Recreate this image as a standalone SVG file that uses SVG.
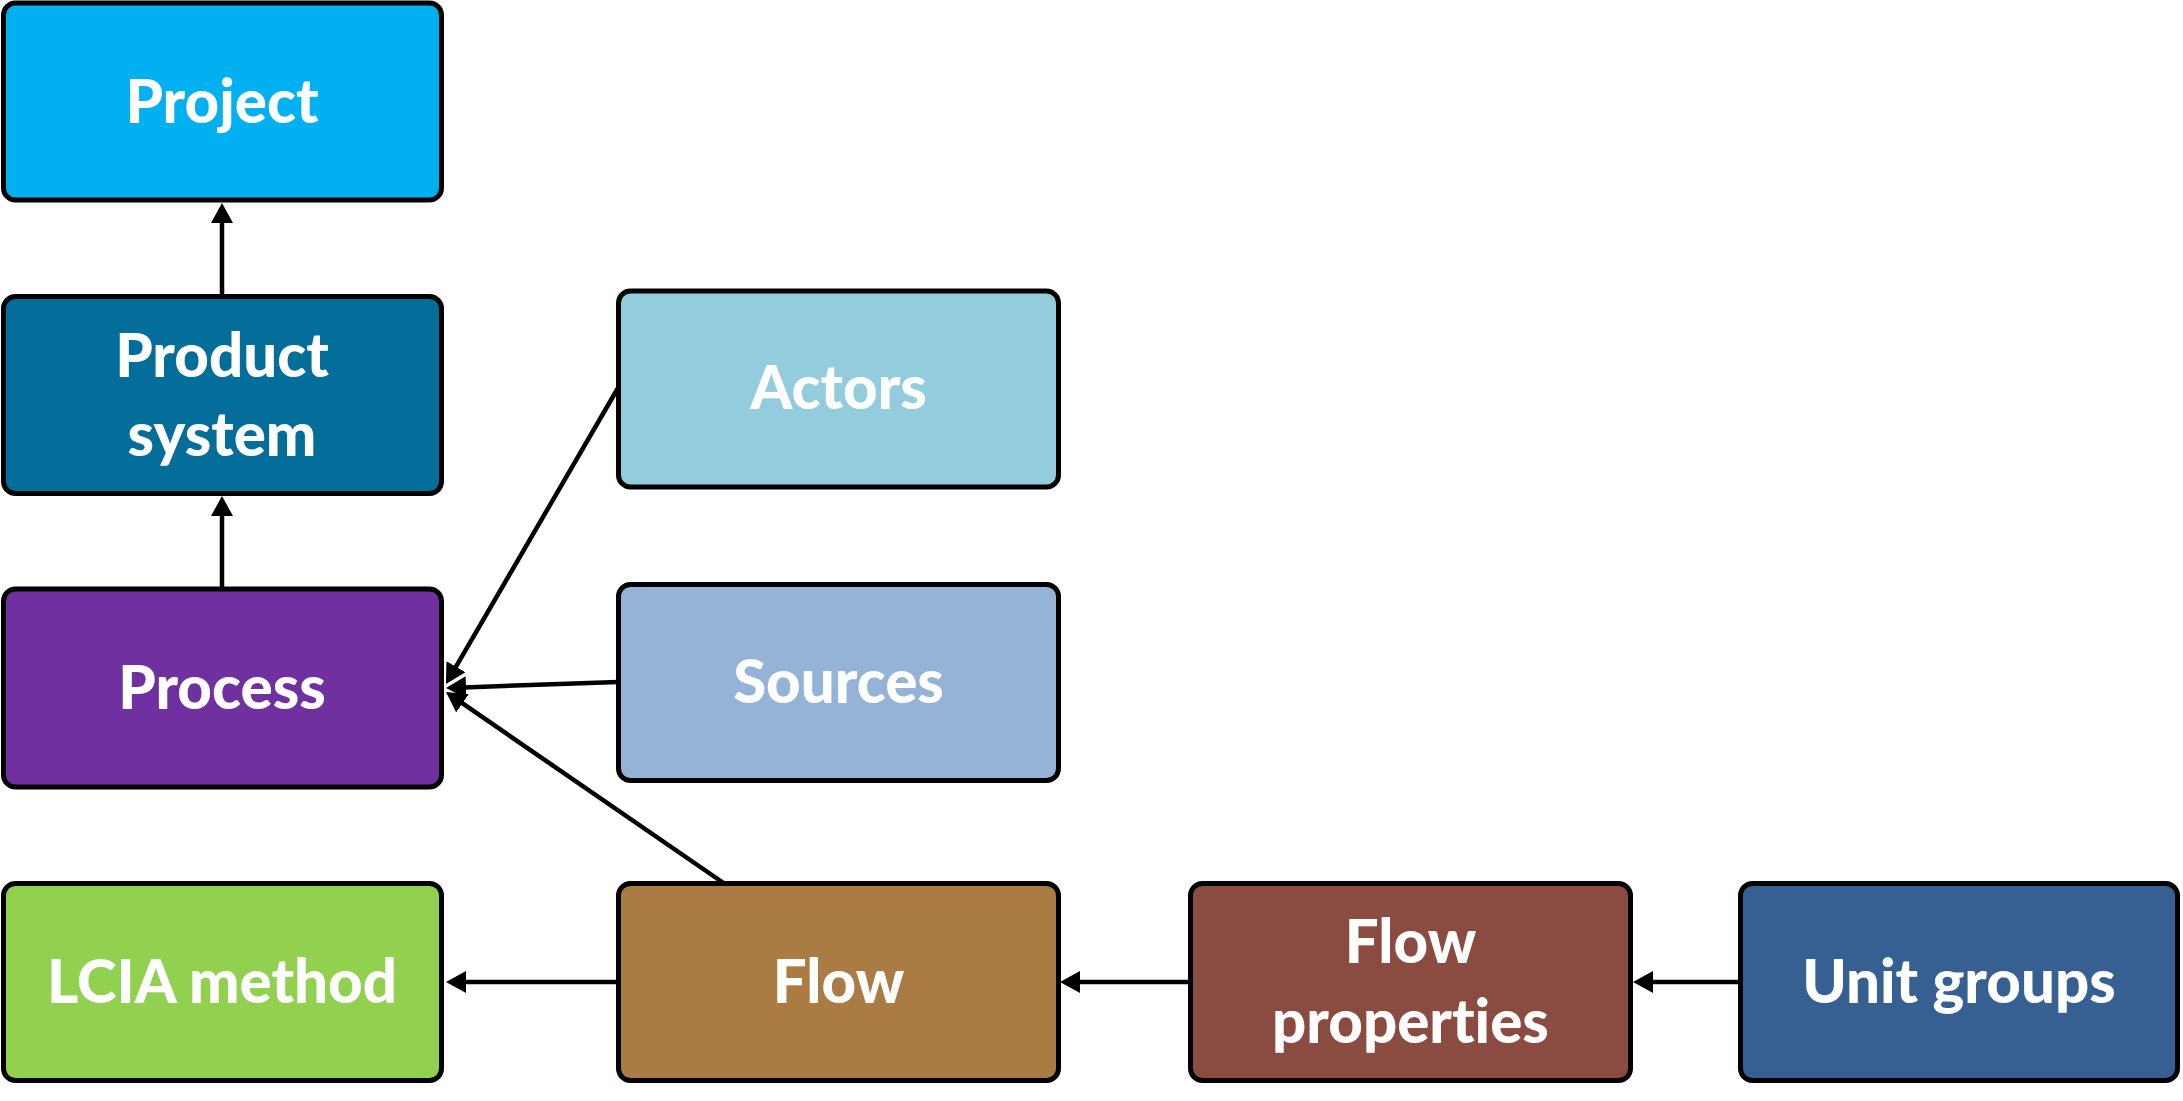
<svg xmlns="http://www.w3.org/2000/svg" width="2183" height="1101" viewBox="0 0 2183 1101">
  <style>
    .box { stroke: #000; stroke-width: 5; }
    .lbl { font-family: Lato, "Open Sans", "Liberation Sans", sans-serif; font-weight: 900; font-size: 60px; fill: #fff; text-anchor: middle; font-variant-ligatures: none; font-feature-settings: "liga" 0, "dlig" 0; }
    .conn { stroke: #000; stroke-width: 4.5; fill: none; marker-end: url(#arrow); }
  </style>
  <defs>
    <marker id="arrow" viewBox="0 0 20 22" markerWidth="20" markerHeight="22" markerUnits="userSpaceOnUse" refX="2" refY="11" orient="auto">
      <path d="M0,0 L20,11 L0,22 z" fill="#000"/>
    </marker>
  </defs>
  <rect width="2183" height="1101" fill="#fff"/>

  <g id="connectors">
    <line class="conn" x1="222" y1="296" x2="222" y2="221"/>
    <line class="conn" x1="222" y1="589" x2="222" y2="514"/>
    <line class="conn" x1="618" y1="388" x2="455" y2="668.4"/>
    <line class="conn" x1="618" y1="682" x2="464" y2="687.4"/>
    <line class="conn" x1="725" y1="884" x2="460.8" y2="702.2"/>
    <line class="conn" x1="618" y1="982" x2="464" y2="982"/>
    <line class="conn" x1="1190" y1="982" x2="1078" y2="982"/>
    <line class="conn" x1="1740" y1="982" x2="1651" y2="982"/>
  </g>

  <g id="project">
    <rect class="box" x="3.5" y="3" width="438" height="197" rx="12" fill="#00B0F0"/>
    <text class="lbl" x="222" y="123">Project</text>
  </g>
  <g id="product-system">
    <rect class="box" x="3.5" y="296.5" width="438" height="197" rx="12" fill="#046E9B"/>
    <text class="lbl" x="222" y="377">Product</text>
    <text class="lbl" x="222" y="456">system</text>
  </g>
  <g id="process">
    <rect class="box" x="3.5" y="589" width="438" height="198" rx="12" fill="#7030A0"/>
    <text class="lbl" x="222" y="709">Process</text>
  </g>
  <g id="lcia-method">
    <rect class="box" x="3.5" y="883.5" width="438" height="197" rx="12" fill="#92D050"/>
    <text class="lbl" x="222" y="1003">LCIA method</text>
  </g>
  <g id="actors">
    <rect class="box" x="618.5" y="291" width="440" height="196" rx="12" fill="#93CDDD"/>
    <text class="lbl" x="838.5" y="409">Actors</text>
  </g>
  <g id="sources">
    <rect class="box" x="618.5" y="584.5" width="440" height="196" rx="12" fill="#95B3D7"/>
    <text class="lbl" x="838.5" y="703">Sources</text>
  </g>
  <g id="flow">
    <rect class="box" x="618.5" y="883.5" width="440" height="197" rx="12" fill="#AA7B43"/>
    <text class="lbl" x="838.5" y="1003">Flow</text>
  </g>
  <g id="flow-properties">
    <rect class="box" x="1190.5" y="883.5" width="440" height="197" rx="12" fill="#8A4C40"/>
    <text class="lbl" x="1410.5" y="963">Flow</text>
    <text class="lbl" x="1410.5" y="1043">properties</text>
  </g>
  <g id="unit-groups">
    <rect class="box" x="1740.5" y="883.5" width="437" height="197" rx="12" fill="#366092"/>
    <text class="lbl" x="1959" y="1003">Unit groups</text>
  </g>
</svg>
